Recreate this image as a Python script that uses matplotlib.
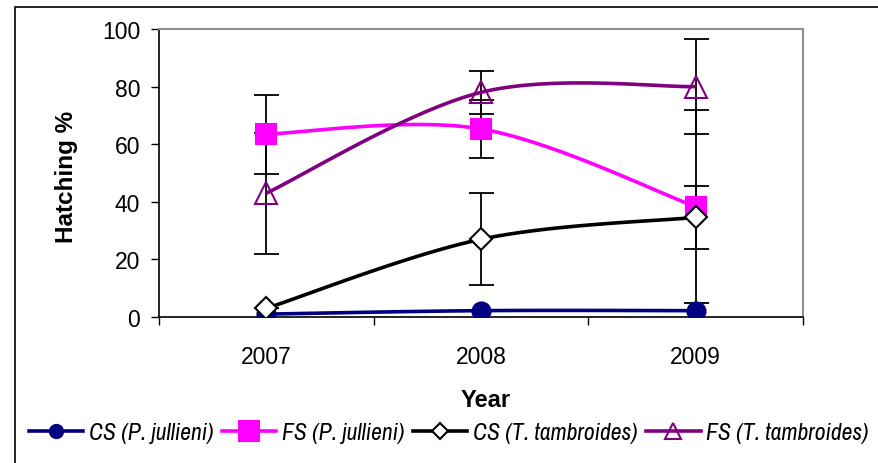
import numpy as np
import matplotlib.pyplot as plt
from matplotlib.lines import Line2D
from matplotlib.patches import Rectangle

years = ['2007', '2008', '2009']

cs_pj = [1.0, 2.2, 2.2]
fs_pj = [63.5, 65.3, 38.3]
cs_tt = [3.0, 27.0, 34.6]
fs_tt = [43.0, 78.0, 80.0]

err_fs_pj = [13.7, 10.0, 33.5]
err_cs_tt = [0.0, 16.0, 11.0]
err_fs_tt = [21.0, 7.5, 16.5]

labels = ['CS (P. jullieni)', 'FS (P. jullieni)', 'CS (T. tambroides)', 'FS (T. tambroides)']


def smooth(x, y, n=40):
    # excel style smoothed line (bezier, catmull-rom control points)
    pts = np.column_stack([x, y]).astype(float)
    pts = np.vstack([pts[0], pts, pts[-1]])
    t = np.linspace(0, 1, n)[:, None]
    out = []
    for k in range(1, len(pts) - 2):
        p0, p3 = pts[k], pts[k + 1]
        c1 = p0 + (pts[k + 1] - pts[k - 1]) / 6
        c2 = p3 - (pts[k + 2] - pts[k]) / 6
        out.append((1 - t)**3 * p0 + 3 * (1 - t)**2 * t * c1 + 3 * (1 - t) * t**2 * c2 + t**3 * p3)
    b = np.vstack(out)
    return b[:, 0], b[:, 1]


fig = plt.figure(figsize=(8.79, 4.64), dpi=100)
plt.rcParams['font.family'] = ['Liberation Sans', 'DejaVu Sans']

ax = fig.add_axes([159/879, 1 - 318/464, 644/879, 288/464])

x = np.arange(len(years))

series = [
    (cs_pj, None, '#000080', 'o', 13, '#000080'),
    (fs_pj, err_fs_pj, '#FF00FF', 's', 15, '#FF00FF'),
    (cs_tt, err_cs_tt, 'black', 'D', 11.5, 'white'),
    (fs_tt, err_fs_tt, '#800080', '^', 16.5, 'none'),
]
legend_ms = [9.5, 14.5, 8, 11]

handles = []
for (vals, err, col, mk, ms, fc), lms in zip(series, legend_ms):
    sx, sy = smooth(x, vals)
    ax.plot(sx, sy, color=col, lw=2.6, zorder=3, solid_capstyle='butt')
    if err is not None:
        ax.errorbar(x, vals, yerr=err, fmt='none', ecolor='black', elinewidth=1.3,
                    capsize=9, capthick=1.3, zorder=2)
    ax.plot(x, vals, ls='none', marker=mk, ms=ms, mfc=fc, mec=col, mew=1.5, zorder=4)
    handles.append(Line2D([], [], color=col, lw=2.6, marker=mk, ms=lms,
                          mfc=fc, mec=col, mew=1.5))

ax.set_xlim(-0.5, 2.5)
ax.set_ylim(0, 100)
ax.set_yticks(np.arange(0, 101, 20))
ax.set_xticks(x)
ax.set_xticklabels(years)
ax.set_xticks([-0.5, 0.5, 1.5, 2.5], minor=True)
ax.tick_params(axis='x', which='major', length=0, pad=20, labelsize=16.5)
ax.tick_params(axis='x', which='minor', length=5.5, width=1, direction='out')
ax.tick_params(axis='y', length=5.5, width=1, direction='out', pad=8, labelsize=16.5)

for s in ['top', 'right']:
    ax.spines[s].set_color('#909090')
    ax.spines[s].set_linewidth(1.5)
for s in ['left', 'bottom']:
    ax.spines[s].set_color('black')
    ax.spines[s].set_linewidth(1.2)

fig.text(66/879, 1 - 177/464, 'Hatching %', rotation=90, ha='center', va='center',
         fontsize=17.5, fontweight='bold')
fig.text(486/879, 1 - 401/464, 'Year', ha='center', va='center',
         fontsize=17, fontweight='bold')

fig.legend(handles, labels, loc='center', bbox_to_anchor=(449/879, 1 - 434/464),
           ncol=4, frameon=False, handlelength=2.3, handletextpad=0.25,
           columnspacing=0.35, borderpad=0,
           prop={'family': ['Archivo Narrow', 'Liberation Sans'], 'style': 'italic', 'size': 17})

fig.patches.append(Rectangle((15/879, -0.1), 1.0, 1.1 - 8/464, transform=fig.transFigure,
                             fill=False, ec='black', lw=1.2))

fig.savefig('out.png', dpi=100)
